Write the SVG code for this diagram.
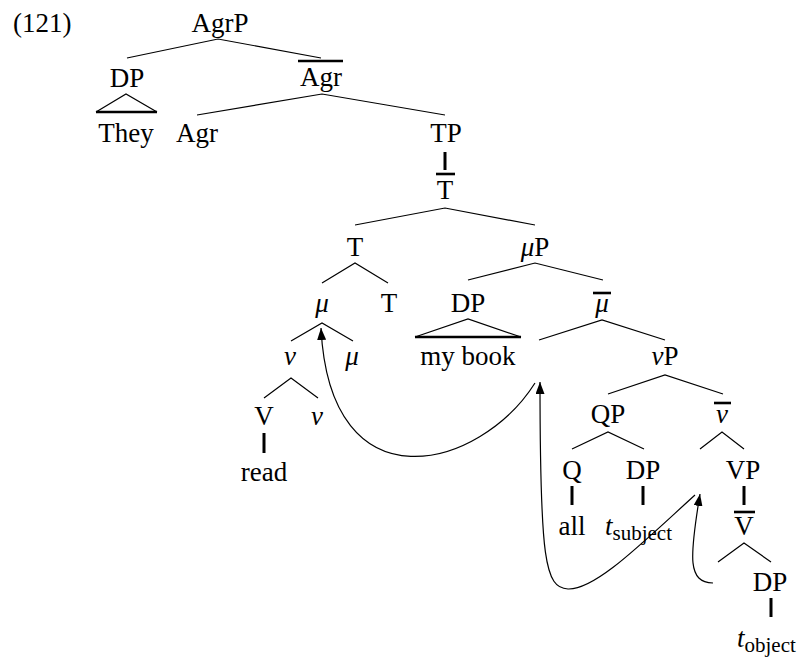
<svg xmlns="http://www.w3.org/2000/svg" width="804" height="658" viewBox="0 0 804 658">
<style>
text{font-family:"Liberation Serif","Times New Roman",serif;font-size:27px;fill:#000}
.m{text-anchor:middle}
.i{font-style:italic}
.sub{font-size:21px;font-style:normal}
.b{stroke:#000;stroke-width:1.2;fill:none}
.u{stroke:#000;stroke-width:3;fill:none}
.bar{stroke:#000;stroke-width:2.6;fill:none}
.tri{stroke:#000;stroke-width:1.2;fill:none}
.arr{stroke:#000;stroke-width:1.2;fill:none;marker-end:url(#ah)}
</style>
<defs>
<marker id="ah" markerUnits="userSpaceOnUse" markerWidth="13" markerHeight="9" refX="12" refY="4.5" orient="auto">
<path d="M0,0 L12,4.5 L0,9 z" fill="#000"/>
</marker>
</defs>
<rect width="804" height="658" fill="#fff"/>
<text id="exnum" x="13" y="32">(121)</text>
<g id="AgrP"><text class="m" x="220" y="32">AgrP</text></g>
<g id="DP1"><text class="m" x="127" y="87">DP</text>
<path class="tri" d="M96,112 L126,94 L157,112"/><line class="bar" x1="96" y1="112" x2="157" y2="112"/></g>
<g id="They"><text class="m" x="126" y="142">They</text></g>
<g id="Agrbar"><text class="m" x="321" y="86">Agr</text><line class="bar" x1="298" y1="61" x2="343" y2="61"/></g>
<g id="Agr"><text class="m" x="197" y="142">Agr</text></g>
<g id="TP"><text class="m" x="446" y="142">TP</text></g>
<g id="Tbar"><text class="m" x="445" y="199">T</text><line class="bar" x1="436" y1="174" x2="455" y2="174"/></g>
<g id="T1"><text class="m" x="355" y="256">T</text></g>
<g id="muP"><text class="m" x="535" y="256"><tspan class="i">μ</tspan>P</text></g>
<g id="mu1"><text class="m i" x="322" y="312">μ</text></g>
<g id="T2"><text class="m" x="389" y="312">T</text></g>
<g id="DP2"><text class="m" x="468" y="312">DP</text>
<path class="tri" d="M415,337 L468,319 L521,337"/><line class="bar" x1="415" y1="337" x2="521" y2="337"/></g>
<g id="mubar"><text class="m i" x="602" y="312">μ</text><line class="bar" x1="593" y1="293" x2="611" y2="293"/></g>
<g id="nu1"><text class="m i" x="290" y="365">ν</text></g>
<g id="mu2"><text class="m i" x="352" y="365">μ</text></g>
<g id="mybook"><text class="m" x="468" y="365">my book</text></g>
<g id="nuP"><text class="m" x="665" y="365"><tspan class="i">ν</tspan>P</text></g>
<g id="V1"><text class="m" x="264" y="425">V</text></g>
<g id="nu2"><text class="m i" x="317" y="425">ν</text></g>
<g id="read"><text class="m" x="264" y="481">read</text></g>
<g id="QP"><text class="m" x="608" y="423">QP</text></g>
<g id="nubar"><text class="m i" x="722" y="423">ν</text><line class="bar" x1="714" y1="403" x2="731" y2="403"/></g>
<g id="Q"><text class="m" x="572" y="479">Q</text></g>
<g id="DP3"><text class="m" x="643" y="479">DP</text></g>
<g id="VP"><text class="m" x="743" y="479">VP</text></g>
<g id="all"><text class="m" x="572" y="535">all</text></g>
<g id="tsubject"><text x="605" y="535"><tspan class="i">t</tspan><tspan class="sub" dy="5">subject</tspan></text></g>
<g id="Vbar"><text class="m" x="744" y="535">V</text><line class="bar" x1="734" y1="512" x2="755" y2="512"/></g>
<g id="DP4"><text class="m" x="770" y="591">DP</text></g>
<g id="tobject"><text x="737" y="647"><tspan class="i">t</tspan><tspan class="sub" dy="5">object</tspan></text></g>
<g id="connectors">
<path class="b" d="M127,58 L218,39 L321,58"/>
<path class="b" d="M197,115 L322,94 L445,115"/>
<line class="u" x1="445" y1="152" x2="445" y2="170"/>
<path class="b" d="M355,225 L445,208 L535,225"/>
<path class="b" d="M322,283 L355,263 L388,283"/>
<path class="b" d="M468,280 L535,263 L603,280"/>
<path class="b" d="M539,340 L602,320 L665,340"/>
<path class="b" d="M291,341 L322,323 L353,341"/>
<path class="b" d="M264,398 L291,378 L318,398"/>
<line class="u" x1="264" y1="433" x2="264" y2="453"/>
<path class="b" d="M608,394 L665,375 L723,394"/>
<path class="b" d="M572,449 L608,432 L644,449"/>
<path class="b" d="M700,449 L722,432 L744,449"/>
<line class="u" x1="572" y1="486" x2="572" y2="505"/>
<line class="u" x1="643" y1="486" x2="643" y2="505"/>
<line class="u" x1="744" y1="486" x2="744" y2="505"/>
<path class="b" d="M718,562 L744,543 L771,562"/>
<line class="u" x1="771" y1="598" x2="771" y2="617"/>
<path class="arr" d="M535,383 C480,470 330,510 321,328"/>
<path class="arr" d="M695,495 C640,545 595,590 568,589 C545,588 540,560 540,382"/>
<path class="arr" d="M713,583 C688,582 689,560 700,494"/>
</g>
</svg>
